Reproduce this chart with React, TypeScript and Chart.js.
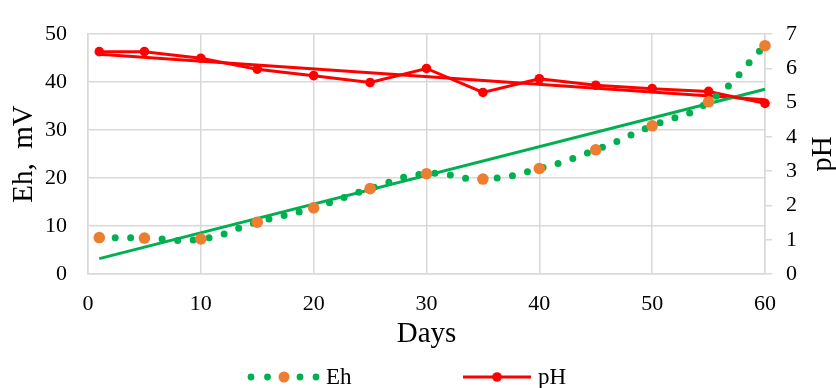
import React, { useEffect, useRef } from 'react';
import { Chart, registerables } from 'chart.js';

Chart.register(...registerables);

// ---- data ----
const days = [1, 5, 10, 15, 20, 25, 30, 35, 40, 45, 50, 55, 60];
const ehValues = [7.6, 7.5, 7.3, 10.8, 13.8, 17.8, 20.9, 19.8, 22.0, 25.9, 30.9, 35.9, 47.6];
const phValues = [6.49, 6.49, 6.3, 5.98, 5.79, 5.59, 6.0, 5.3, 5.7, 5.51, 5.41, 5.33, 4.98];
const xTicks = [0, 10, 20, 30, 40, 50, 60];
const ehTicks = [0, 10, 20, 30, 40, 50];
const phTicks = [0, 1, 2, 3, 4, 5, 6, 7];
const seriesNames = ['Eh', 'pH'];
const axisTitles = { x: 'Days', y: 'Eh,  mV', y2: 'pH' };

const GREEN = '#00b050';
const ORANGE = '#ed7d31';
const RED = '#ff0000';
const GRID = '#d9d9d9';
const FONT = "'Liberation Serif', 'Times New Roman', serif";

function linearFit(xs: number[], ys: number[]) {
  const n = xs.length;
  const mx = xs.reduce((a, b) => a + b, 0) / n;
  const my = ys.reduce((a, b) => a + b, 0) / n;
  let sxy = 0;
  let sxx = 0;
  for (let i = 0; i < n; i++) {
    sxy += (xs[i] - mx) * (ys[i] - my);
    sxx += (xs[i] - mx) * (xs[i] - mx);
  }
  const b = sxy / sxx;
  const a = my - b * mx;
  const x0 = xs[0];
  const x1 = xs[n - 1];
  return [
    { x: x0, y: a + b * x0 },
    { x: x1, y: a + b * x1 },
  ];
}

const extrasPlugin = {
  id: 'extras',
  afterDraw(chart: any) {
    const ctx = chart.ctx as CanvasRenderingContext2D;
    const area = chart.chartArea;
    // right axis title, reading bottom-to-top
    ctx.save();
    ctx.translate(chart.width - 13, (area.top + area.bottom) / 2);
    ctx.rotate(-Math.PI / 2);
    ctx.font = `29px ${FONT}`;
    ctx.fillStyle = '#000';
    ctx.textAlign = 'center';
    ctx.textBaseline = 'middle';
    ctx.fillText(axisTitles.y2, 0, 0);
    ctx.restore();

    // legend
    const ly = 377;
    ctx.save();
    ctx.fillStyle = GREEN;
    [251, 267.5, 300, 316].forEach((cx) => {
      ctx.beginPath();
      ctx.arc(cx, ly, 3.4, 0, Math.PI * 2);
      ctx.fill();
    });
    ctx.fillStyle = ORANGE;
    ctx.beginPath();
    ctx.arc(284, ly, 5.5, 0, Math.PI * 2);
    ctx.fill();

    ctx.strokeStyle = RED;
    ctx.lineWidth = 3;
    ctx.beginPath();
    ctx.moveTo(463, ly);
    ctx.lineTo(531, ly);
    ctx.stroke();
    ctx.fillStyle = RED;
    ctx.beginPath();
    ctx.arc(497, ly, 4.8, 0, Math.PI * 2);
    ctx.fill();

    ctx.font = `23px ${FONT}`;
    ctx.fillStyle = '#000';
    ctx.textAlign = 'left';
    ctx.textBaseline = 'middle';
    ctx.fillText(seriesNames[0], 326, ly + 1);
    ctx.fillText(seriesNames[1], 538, ly + 1);
    ctx.restore();
  },
};

export default function App() {
  const ref = useRef<HTMLCanvasElement | null>(null);

  useEffect(() => {
    document.body.style.margin = '0';
    const canvas = ref.current;
    if (!canvas) return;

    const ehPts = days.map((d, i) => ({ x: d, y: ehValues[i] }));
    const phPts = days.map((d, i) => ({ x: d, y: phValues[i] }));

    const chart = new Chart(canvas, {
      type: 'line',
      data: {
        datasets: [
          {
            label: seriesNames[0],
            data: ehPts,
            yAxisID: 'y',
            borderColor: GREEN,
            borderWidth: 7,
            borderDash: [0, 15.7],
            borderCapStyle: 'round',
            tension: 0.5,
            pointRadius: 5.8,
            pointBackgroundColor: ORANGE,
            pointBorderColor: ORANGE,
            pointBorderWidth: 0,
            clip: false,
            order: 1,
          },
          {
            label: 'Eh trend',
            data: linearFit(days, ehValues),
            yAxisID: 'y',
            borderColor: GREEN,
            borderWidth: 3,
            pointRadius: 0,
            tension: 0,
            clip: false,
            order: 3,
          },
          {
            label: seriesNames[1],
            data: phPts,
            yAxisID: 'y2',
            borderColor: RED,
            borderWidth: 3,
            pointRadius: 4.8,
            pointBackgroundColor: RED,
            pointBorderColor: RED,
            pointBorderWidth: 0,
            tension: 0,
            clip: false,
            order: 2,
          },
          {
            label: 'pH trend',
            data: linearFit(days, phValues),
            yAxisID: 'y2',
            borderColor: RED,
            borderWidth: 3,
            pointRadius: 0,
            tension: 0,
            clip: false,
            order: 4,
          },
        ],
      },
      options: {
        responsive: false,
        animation: false,
        layout: { padding: { top: 23, left: 0, right: 0, bottom: 28 } },
        plugins: {
          legend: { display: false },
          tooltip: { enabled: false },
        },
        scales: {
          x: {
            type: 'linear',
            min: 0,
            max: 60,
            afterBuildTicks: (s: any) => {
              s.ticks = xTicks.map((v) => ({ value: v }));
            },
            afterFit: (s: any) => {
              s.height = 86;
            },
            grid: { color: GRID, lineWidth: 1.5, drawTicks: false },
            border: { color: GRID, width: 1.5 },
            ticks: { color: '#000', font: { family: FONT, size: 22 }, padding: 17, maxRotation: 0 },
            title: {
              display: true,
              text: axisTitles.x,
              color: '#000',
              font: { family: FONT, size: 29 },
              padding: { top: 8.6, bottom: 8.6 },
            },
          },
          y: {
            type: 'linear',
            position: 'left',
            min: 0,
            max: 50,
            afterBuildTicks: (s: any) => {
              s.ticks = ehTicks.map((v) => ({ value: v }));
            },
            afterFit: (s: any) => {
              s.width = 88;
            },
            grid: { color: GRID, lineWidth: 1.5, drawTicks: false },
            border: { color: GRID, width: 1.5 },
            ticks: { color: '#000', font: { family: FONT, size: 22 }, padding: 21 },
            title: {
              display: true,
              text: axisTitles.y,
              color: '#000',
              font: { family: FONT, size: 29 },
              padding: { top: 6.6, bottom: 0 },
            },
          },
          y2: {
            type: 'linear',
            position: 'right',
            min: 0,
            max: 7,
            afterBuildTicks: (s: any) => {
              s.ticks = phTicks.map((v) => ({ value: v }));
            },
            afterFit: (s: any) => {
              s.width = 71;
            },
            grid: { color: GRID, lineWidth: 1.5, drawOnChartArea: false, drawTicks: true, tickLength: 7 },
            border: { color: GRID, width: 1.5 },
            ticks: { color: '#000', font: { family: FONT, size: 22 }, padding: 14 },
          },
        },
      },
      plugins: [extrasPlugin],
    } as any);

    return () => chart.destroy();
  }, []);

  return (
    <div style={{ width: 836, height: 388 }}>
      <canvas ref={ref} width={836} height={388} style={{ display: 'block', width: 836, height: 388 }} />
    </div>
  );
}
